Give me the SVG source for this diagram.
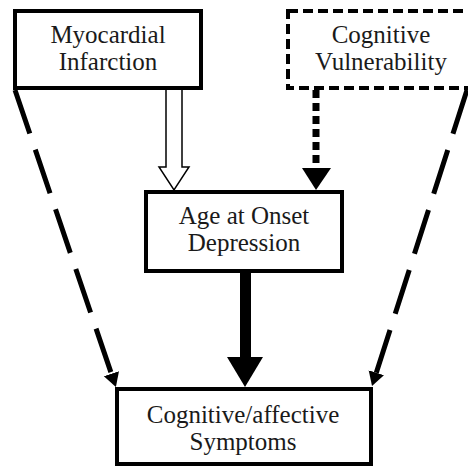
<svg xmlns="http://www.w3.org/2000/svg" width="468" height="467" viewBox="0 0 468 467">
<style>
.box{fill:#fff;stroke:#000;stroke-width:4}
.dbox{fill:#fff;stroke:#000;stroke-width:4;stroke-dasharray:10 5}
.lbl{font-family:'Liberation Serif','Times New Roman',serif;font-size:25px;fill:#1a1a1a;text-anchor:middle}
.dash{fill:none;stroke:#000;stroke-width:5;stroke-dasharray:46 17}
</style>
<defs>
<marker id="tri" markerUnits="userSpaceOnUse" viewBox="0 -9 15 18" refX="0" refY="0" markerWidth="15" markerHeight="18" orient="auto">
<path d="M0,-8 L14,0 L0,8 z" fill="#000"/>
</marker>
</defs>
<rect width="468" height="467" fill="#fff"/>
<g id="connectors">
<line class="dash" x1="15" y1="90" x2="111.4" y2="373.8" marker-end="url(#tri)"/>
<line class="dash" x1="467" y1="90" x2="376.3" y2="372.7" marker-end="url(#tri)"/>
<polygon points="166,88 166,167 159,167 174,190 189,167 182,167 182,88" fill="#fff" stroke="#000" stroke-width="1.5"/>
<line x1="316" y1="90" x2="316" y2="168" stroke="#000" stroke-width="7" stroke-dasharray="8 5"/>
<polygon points="302,168 331,168 316,190" fill="#000"/>
<rect x="240" y="271" width="11" height="88" fill="#000"/>
<polygon points="227,357 263,357 245,387" fill="#000"/>
</g>
<g id="myocardial">
<rect class="box" x="15" y="11" width="186" height="77"/>
<text class="lbl" x="108" y="43">Myocardial</text>
<text class="lbl" x="108" y="70">Infarction</text>
</g>
<g id="vulnerability">
<rect class="dbox" x="288" y="11" width="182" height="77"/>
<text class="lbl" x="381" y="43">Cognitive</text>
<text class="lbl" x="381" y="70">Vulnerability</text>
</g>
<g id="onset">
<rect class="box" x="146" y="192" width="196" height="79"/>
<text class="lbl" x="244" y="224">Age at Onset</text>
<text class="lbl" x="244" y="251">Depression</text>
</g>
<g id="symptoms">
<rect class="box" x="117" y="389" width="254" height="75"/>
<text class="lbl" x="243" y="423">Cognitive/affective</text>
<text class="lbl" x="243" y="450">Symptoms</text>
</g>
</svg>
